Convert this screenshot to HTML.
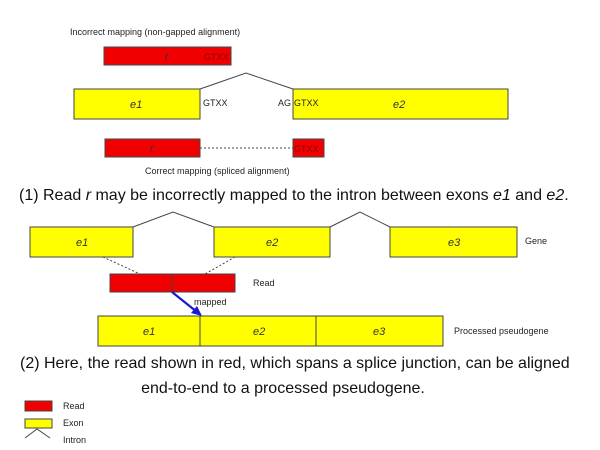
<!DOCTYPE html>
<html><head><meta charset="utf-8"><style>
body{margin:0;background:#fff;}
svg{display:block;font-family:"Liberation Sans",sans-serif;}
.s{font-size:9px;fill:#222}
.g{font-size:9px;fill:#8a0000}
.b{font-size:16px;fill:#111}
.ex{fill:#ffff00;stroke:#444;stroke-width:1}
.rd{fill:#f00000;stroke:#444;stroke-width:1}
.e{font-size:11px;font-style:italic;fill:#333}
</style></head><body>
<svg width="600" height="450" viewBox="0 0 600 450">
<g>
<text class="s" x="70" y="35">Incorrect mapping (non-gapped alignment)</text>
<rect class="rd" x="104" y="47" width="127" height="18"/>
<text class="e" x="165" y="60">r</text>
<text class="g" x="204" y="60">GTXX</text>
<polyline points="200,89 246,73 293,89" fill="none" stroke="#444"/>
<rect class="ex" x="74" y="89" width="126" height="30"/>
<text class="e" x="130" y="108">e1</text>
<rect class="ex" x="293" y="89" width="215" height="30"/>
<text class="e" x="393" y="108">e2</text>
<text class="s" x="203" y="106">GTXX</text>
<text class="s" x="278" y="106">AG</text>
<text class="s" x="294" y="106">GTXX</text>
<rect class="rd" x="105" y="139" width="95" height="18"/>
<text class="e" x="150" y="152">r</text>
<line x1="200" y1="148" x2="293" y2="148" stroke="#444" stroke-dasharray="2,2"/>
<rect class="rd" x="293" y="139" width="31" height="18"/>
<text class="g" x="294" y="152">GTXX</text>
<text class="s" x="145" y="174">Correct mapping (spliced alignment)</text>
<text class="b" x="19" y="200">(1) Read <tspan font-style="italic">r</tspan> may be incorrectly mapped to the intron between exons <tspan font-style="italic">e1</tspan> and <tspan font-style="italic">e2</tspan>.</text>
</g>
<g>
<polyline points="133,227 173,212 214,227" fill="none" stroke="#444"/>
<polyline points="330,227 360,212 390,227" fill="none" stroke="#444"/>
<rect class="ex" x="30" y="227" width="103" height="30"/>
<text class="e" x="76" y="246">e1</text>
<rect class="ex" x="214" y="227" width="116" height="30"/>
<text class="e" x="266" y="246">e2</text>
<rect class="ex" x="390" y="227" width="127" height="30"/>
<text class="e" x="448" y="246">e3</text>
<text class="s" x="525" y="244">Gene</text>
<line x1="103" y1="257" x2="140" y2="274" stroke="#444" stroke-dasharray="2,2"/>
<line x1="235" y1="257" x2="205" y2="274" stroke="#444" stroke-dasharray="2,2"/>
<rect class="rd" x="110" y="274" width="125" height="18"/>
<line x1="172" y1="274" x2="172" y2="292" stroke="#444"/>
<text class="s" x="253" y="286">Read</text>
<line x1="172" y1="292" x2="197" y2="312" stroke="#1a1ad0" stroke-width="2.2"/>
<polygon points="202,316 191,313 197,306" fill="#1a1ad0"/>
<text class="s" x="194" y="305">mapped</text>
<rect class="ex" x="98" y="316" width="345" height="30"/>
<line x1="200" y1="316" x2="200" y2="346" stroke="#444"/>
<line x1="316" y1="316" x2="316" y2="346" stroke="#444"/>
<text class="e" x="143" y="335">e1</text>
<text class="e" x="253" y="335">e2</text>
<text class="e" x="373" y="335">e3</text>
<text class="s" x="454" y="334">Processed pseudogene</text>
<text class="b" x="20" y="368">(2) Here, the read shown in red, which spans a splice junction, can be aligned</text>
<text class="b" x="283" y="393" text-anchor="middle">end-to-end to a processed pseudogene.</text>
</g>
<g>
<rect class="rd" x="25" y="401" width="27" height="10"/>
<text class="s" x="63" y="409" font-size="8">Read</text>
<rect class="ex" x="25" y="419" width="27" height="9"/>
<text class="s" x="63" y="426" font-size="8">Exon</text>
<polyline points="25,438 37,429 50,438" fill="none" stroke="#444"/>
<text class="s" x="63" y="443" font-size="8">Intron</text>
</g>
</svg>
</body></html>
